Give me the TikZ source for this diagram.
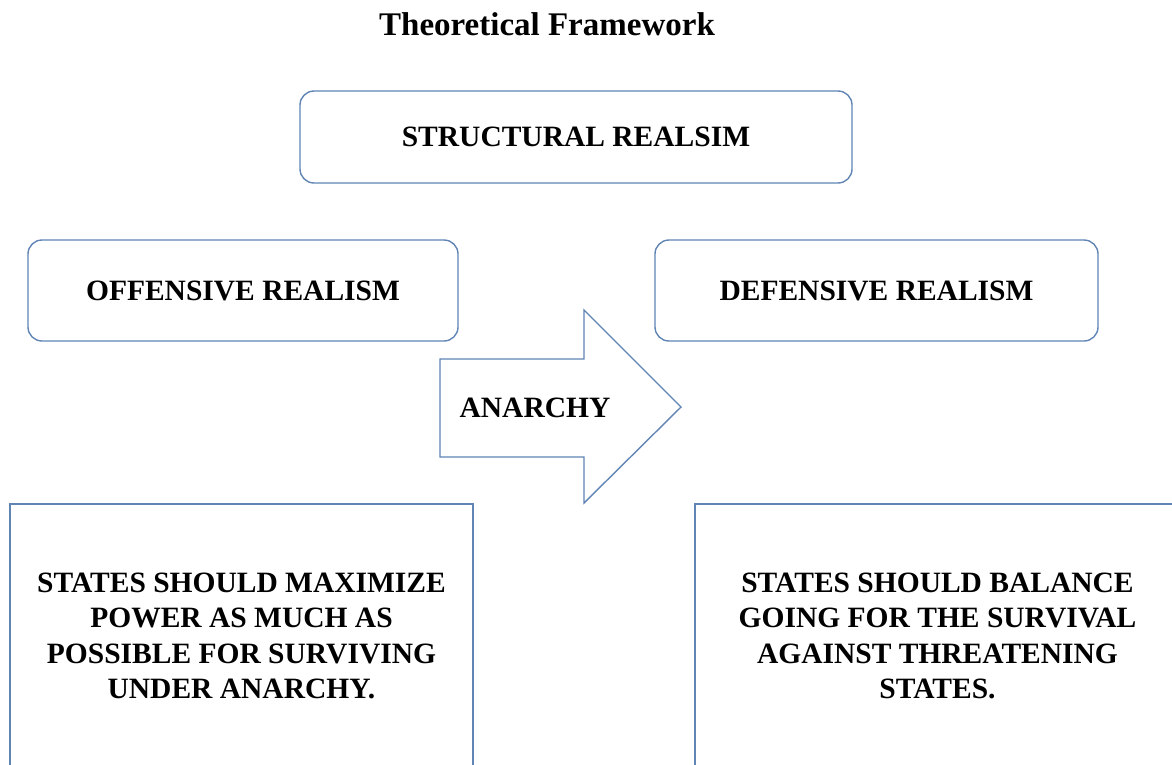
\documentclass[tikz,border=0pt]{standalone}
\usepackage{fontspec}
\setmainfont{Liberation Serif}
\definecolor{bordc}{RGB}{96,132,180}
\newcommand{\boxfont}{\bfseries\fontsize{29.5}{35.5}\selectfont}
\tikzset{
  rbox/.style={draw=bordc, line width=1.4pt, rounded corners=14pt, inner sep=0pt, font=\boxfont, align=center},
  sbox/.style={draw=bordc, line width=1.4pt, inner sep=0pt, font=\boxfont, align=center},
  plain/.style={inner sep=0pt, font=\boxfont, align=center}
}
\begin{document}
\begin{tikzpicture}[x=1pt,y=-1pt]
\useasboundingbox (0,0) rectangle (1172,764);
\clip (0,0) rectangle (1172,764);
\node[plain, font=\bfseries\fontsize{33}{38}\selectfont] (title) at (547,24) {Theoretical Framework};
\node[rbox, minimum width=552pt, minimum height=92pt] (struct) at (576,137) {STRUCTURAL REALSIM};
\node[rbox, minimum width=430pt, minimum height=101pt] (off) at (243,290.5) {OFFENSIVE REALISM};
\node[rbox, minimum width=443pt, minimum height=101pt] (def) at (876.5,290.5) {DEFENSIVE REALISM};
\draw[draw=bordc, line width=1.4pt, line join=miter] (440,359) -- (584,359) -- (584,310) -- (681,407) -- (584,503) -- (584,457) -- (440,457) -- cycle;
\node[plain] (anarchy) at (535,408) {ANARCHY};
\node[sbox, minimum width=463pt, minimum height=264pt] (offtext) at (241.5,636) {STATES SHOULD MAXIMIZE\\POWER AS MUCH AS\\POSSIBLE FOR SURVIVING\\UNDER ANARCHY.};
\node[sbox, minimum width=485pt, minimum height=264pt] (deftext) at (937.5,636) {STATES SHOULD BALANCE\\GOING FOR THE SURVIVAL\\AGAINST THREATENING\\STATES.};
\end{tikzpicture}
\end{document}
